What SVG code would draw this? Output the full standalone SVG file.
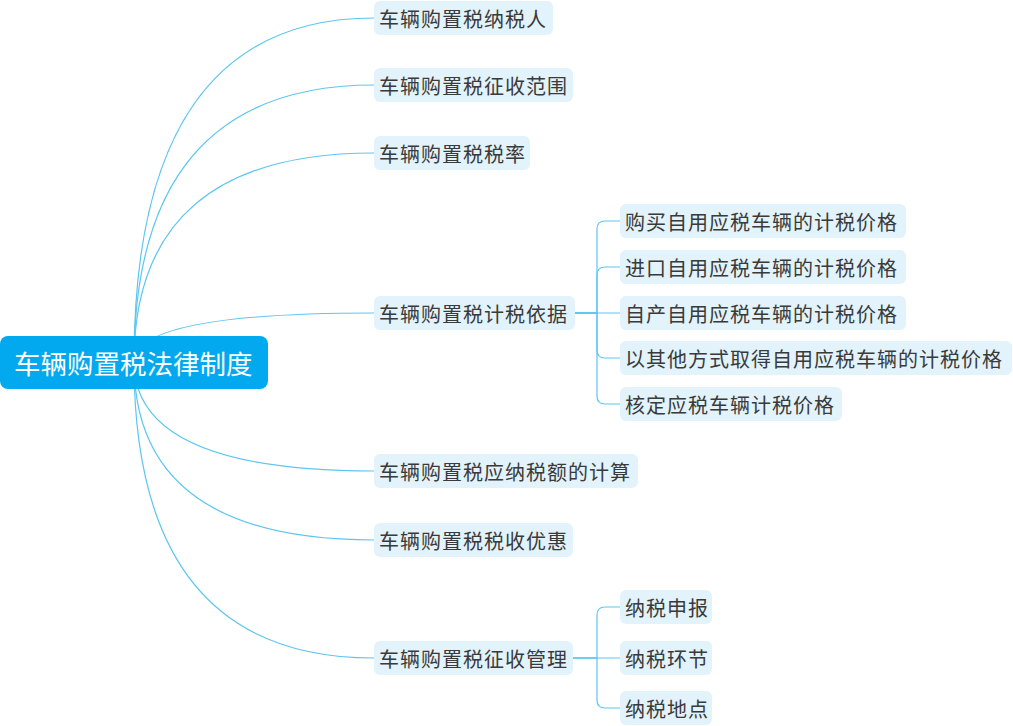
<svg xmlns="http://www.w3.org/2000/svg" width="1013" height="726" viewBox="0 0 1013 726">
<style>
.ln{fill:none;stroke:#5CC6F0;stroke-width:1.2}
.nd{fill:#E2F3FB}
.tx{font-family:"Noto Sans CJK SC","Noto Sans",sans-serif;font-size:20px;fill:#3a3a3a;letter-spacing:1px;dominant-baseline:central}
.rt{fill:#02A9EE}
.rtx{font-family:"Noto Sans CJK SC","Noto Sans",sans-serif;font-size:26.5px;fill:#ffffff;dominant-baseline:central}
</style>
<rect width="1013" height="726" fill="#ffffff"/>
<g id="connectors">
<path class="ln" d="M134,362 Q134,18 374,18"/>
<path class="ln" d="M134,362 Q134,85 374,85"/>
<path class="ln" d="M134,362 Q134,153 374,153"/>
<path class="ln" d="M134,362 Q134,313 374,313"/>
<path class="ln" d="M134,362 Q134,471 374,471"/>
<path class="ln" d="M134,362 Q134,540 374,540"/>
<path class="ln" d="M134,362 Q134,658 374,658"/>
<path class="ln" d="M575,313 H597 V229 Q597,221 605,221 H620"/>
<path class="ln" d="M575,313 H597 V275 Q597,267 605,267 H620"/>
<path class="ln" d="M575,313 H620"/>
<path class="ln" d="M575,313 H597 V350 Q597,358 605,358 H620"/>
<path class="ln" d="M575,313 H597 V396 Q597,404 605,404 H620"/>
<path class="ln" d="M573,658 H597 V615 Q597,607 605,607 H620"/>
<path class="ln" d="M573,658 H620"/>
<path class="ln" d="M573,658 H597 V700 Q597,708 605,708 H620"/>
</g>
<g id="root">
<rect class="rt" x="0" y="336" width="268" height="53" rx="8"/>
<text class="rtx" x="14" y="362.5">车辆购置税法律制度</text>
</g>
<g id="n1"><rect class="nd" x="374" y="1" width="179" height="34" rx="6"/><text class="tx" x="379" y="18">车辆购置税纳税人</text></g>
<g id="n2"><rect class="nd" x="374" y="68" width="199" height="34" rx="6"/><text class="tx" x="379" y="85">车辆购置税征收范围</text></g>
<g id="n3"><rect class="nd" x="374" y="136" width="156" height="34" rx="6"/><text class="tx" x="379" y="153">车辆购置税税率</text></g>
<g id="n4"><rect class="nd" x="374" y="296" width="201" height="34" rx="6"/><text class="tx" x="379" y="313">车辆购置税计税依据</text></g>
<g id="n4a"><rect class="nd" x="620" y="204" width="286" height="34" rx="6"/><text class="tx" x="625" y="221">购买自用应税车辆的计税价格</text></g>
<g id="n4b"><rect class="nd" x="620" y="250" width="286" height="34" rx="6"/><text class="tx" x="625" y="267">进口自用应税车辆的计税价格</text></g>
<g id="n4c"><rect class="nd" x="620" y="296" width="286" height="34" rx="6"/><text class="tx" x="625" y="313">自产自用应税车辆的计税价格</text></g>
<g id="n4d"><rect class="nd" x="620" y="341" width="392" height="34" rx="6"/><text class="tx" x="625" y="358">以其他方式取得自用应税车辆的计税价格</text></g>
<g id="n4e"><rect class="nd" x="620" y="387" width="222" height="34" rx="6"/><text class="tx" x="625" y="404">核定应税车辆计税价格</text></g>
<g id="n5"><rect class="nd" x="374" y="454" width="264" height="34" rx="6"/><text class="tx" x="379" y="471">车辆购置税应纳税额的计算</text></g>
<g id="n6"><rect class="nd" x="374" y="523" width="199" height="34" rx="6"/><text class="tx" x="379" y="540">车辆购置税税收优惠</text></g>
<g id="n7"><rect class="nd" x="374" y="641" width="199" height="34" rx="6"/><text class="tx" x="379" y="658">车辆购置税征收管理</text></g>
<g id="n7a"><rect class="nd" x="620" y="590" width="92" height="34" rx="6"/><text class="tx" x="625" y="607">纳税申报</text></g>
<g id="n7b"><rect class="nd" x="620" y="641" width="92" height="34" rx="6"/><text class="tx" x="625" y="658">纳税环节</text></g>
<g id="n7c"><rect class="nd" x="620" y="691" width="92" height="34" rx="6"/><text class="tx" x="625" y="708">纳税地点</text></g>
</svg>
